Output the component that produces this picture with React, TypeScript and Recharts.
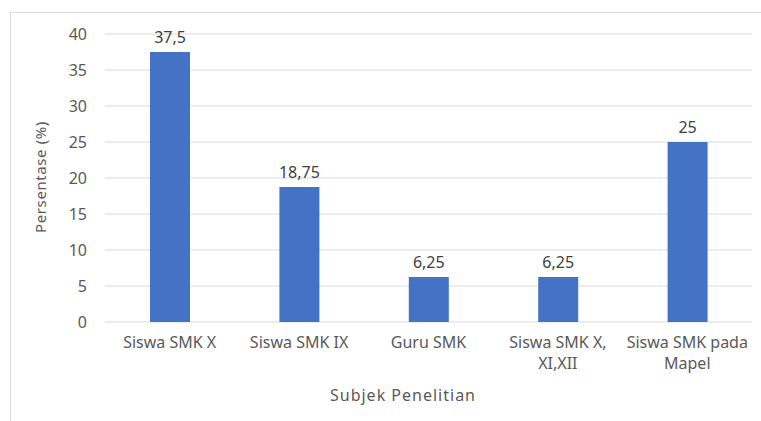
import { BarChart, Bar, XAxis, YAxis, CartesianGrid, LabelList } from "recharts";

const categories = [
  "Siswa SMK X",
  "Siswa SMK IX",
  "Guru SMK",
  "Siswa SMK X,\nXI,XII",
  "Siswa SMK pada\nMapel",
];
const persentase = [37.5, 18.75, 6.25, 6.25, 25];
const yTicks = [0, 5, 10, 15, 20, 25, 30, 35, 40];

const data = categories.map((name, i) => ({ name, value: persentase[i] }));

const FONT = "'Noto Sans', 'Open Sans', sans-serif";
const GREY = "#595959";

// category labels can hold a line break
function CategoryTick(props: any) {
  const { x, y, payload } = props;
  const lines = String(payload.value).split("\n");
  return (
    <text x={x} y={y} textAnchor="middle" fill={GREY} fontSize={16} fontFamily={FONT}>
      {lines.map((line, i) => (
        <tspan key={i} x={x} dy={i === 0 ? "0.85em" : 21}>
          {line}
        </tspan>
      ))}
    </text>
  );
}

const fmt = (v: any) => String(v).replace(".", ",");

export default function App() {
  return (
    <div
      style={{
        position: "absolute",
        left: 0,
        top: 0,
        width: 761,
        height: 421,
        background: "#fff",
        overflow: "hidden",
      }}
    >
      <div
        style={{
          position: "absolute",
          left: 10,
          top: 12,
          width: 800,
          height: 450,
          border: "1px solid #d9d9d9",
        }}
      />
      <BarChart
        width={761}
        height={421}
        data={data}
        margin={{ top: 34, right: 9, bottom: 0, left: 0 }}
        style={{ position: "absolute", left: 0, top: 0 }}
      >
        <CartesianGrid vertical={false} stroke="#d9d9d9" />
        <XAxis
          dataKey="name"
          height={99}
          axisLine={false}
          tickLine={false}
          tickSize={6}
          tickMargin={6}
          interval={0}
          tick={<CategoryTick />}
        />
        <YAxis
          width={105}
          domain={[0, 40]}
          ticks={yTicks}
          axisLine={false}
          tickLine={false}
          tickMargin={12}
          tick={{ fill: GREY, fontSize: 16, fontFamily: FONT }}
        />
        <Bar dataKey="value" fill="#4472C4" barSize={40} isAnimationActive={false}>
          <LabelList
            dataKey="value"
            position="top"
            offset={9}
            formatter={fmt}
            fill="#404040"
            fontSize={16}
            fontFamily={FONT}
          />
        </Bar>
        <text
          x={40}
          y={177}
          transform="rotate(-90 40 177)"
          textAnchor="middle"
          dominantBaseline="central"
          fill={GREY}
          fontSize={15}
          fontFamily={FONT}
          letterSpacing={0.6}
        >
          Persentase (%)
        </text>
        <text
          x={403}
          y={395}
          textAnchor="middle"
          dominantBaseline="central"
          fill={GREY}
          fontSize={16}
          fontFamily={FONT}
          letterSpacing={1}
        >
          Subjek Penelitian
        </text>
      </BarChart>
    </div>
  );
}
